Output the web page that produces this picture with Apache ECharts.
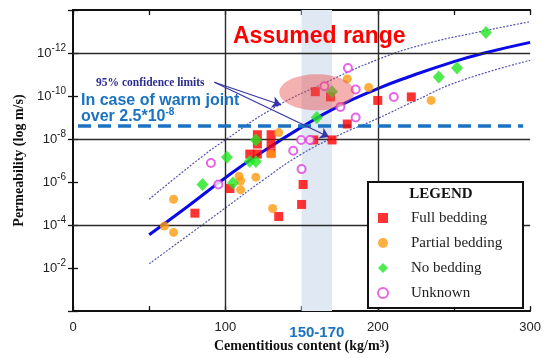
<!DOCTYPE html>
<html><head><meta charset="utf-8">
<script src="https://cdn.jsdelivr.net/npm/echarts@6/dist/echarts.min.js"></script>
<style>html,body{margin:0;padding:0;background:#fff}#c{width:544px;height:358px}</style>
</head><body><div id="c"></div>
<script>
// ---- data (x: cementitious content kg/m3, k: permeability m/s) ----
const xLabelValues = [0, 100, 200, 300];
const yLabelExponents = [-12, -10, -8, -6, -4, -2];

const fullX = [80, 103, 116, 121, 121, 121, 130, 130, 130, 135, 150, 151, 158, 159, 169, 170, 180, 200, 222];
const fullK = [2.8e-5, 2.0e-6, 5.0e-8, 6.3e-9, 1.7e-8, 5.0e-8, 6.3e-9, 1.7e-8, 4.5e-8, 4.0e-5, 1.1e-5, 1.3e-6, 1.1e-8, 6.3e-11, 1.1e-10, 1.1e-8, 2.0e-9, 1.6e-10, 1.1e-10];

const partialX = [60, 66, 66, 109, 110, 110, 120, 130, 131, 135, 180, 194, 235];
const partialK = [1.1e-4, 2.2e-4, 6.3e-6, 5.4e-7, 8.9e-7, 2.3e-6, 5.9e-7, 5.0e-8, 1.7e-5, 5.0e-9, 1.6e-11, 4.0e-11, 1.6e-10];

const noX = [85, 101, 105, 116, 120, 120, 160, 170, 240, 252, 271];
const noK = [1.3e-6, 7.1e-8, 1.1e-6, 1.1e-7, 1.1e-7, 1.1e-8, 1.0e-9, 6.3e-11, 1.3e-11, 5.0e-12, 1.1e-13];

const unkX = [90.5, 95.4, 144.5, 150, 149.7, 155.5, 165, 175.5, 180.4, 185.5, 185.5, 210.5];
const unkK = [1.3e-7, 1.3e-6, 3.5e-8, 2.5e-7, 1.1e-8, 1.1e-8, 3.5e-11, 3.2e-10, 5.0e-12, 5.0e-11, 1.0e-9, 1.1e-10];

const fitX = [50, 75, 100, 120, 150, 175, 200, 220, 250, 270, 300];
const fitK = [2.8e-4, 1.4e-5, 6.3e-7, 6.3e-8, 2.8e-9, 2.8e-10, 4.5e-11, 1.3e-11, 2.5e-12, 1.0e-12, 3.2e-13];

const upperX = [50, 85, 100, 132, 165, 200, 230, 265, 300];
const upperK = [6.3e-6, 6.3e-8, 1.1e-8, 3.5e-10, 2.5e-11, 2.0e-12, 4.0e-13, 1.1e-13, 3.5e-14];

const lowerX = [50, 100, 125, 150, 175, 200, 225, 254, 300];
const lowerK = [6.3e-3, 1.6e-5, 7.9e-7, 5.0e-8, 6.3e-9, 1.1e-9, 1.6e-10, 2.0e-11, 2.2e-12];

const bandRange = [150, 170];
const gridK = [1e-12, 1e-8, 1e-4];
const gridX = [100, 200];
const axisXRange = [0, 300];
const axisKRange = [1e-14, 1];
const warmJointK = 2.3e-9;
const warmJointX = [3.3, 295.4];
const arrowStart = [92.8, 2.3e-11];
const arrowEnds = [[136.6, 2.6e-10], [168, 8.1e-9]];
const ellipseCenter = [160, 6.6e-11];

const zip = (xs, ys) => xs.map((x, i) => [x, ys[i]]);

const BLUE = '#1b72c2';
const sans = 'Liberation Sans';
const serif = 'Liberation Serif';

const chart = echarts.init(document.getElementById('c'), null, {renderer: 'canvas'});

const yLabelFmt = v => {
  const e = Math.round(Math.log10(v));
  return yLabelExponents.includes(e) ? '{b|10}{s|' + e + '}' : '';
};
const axisLineStyle = {lineStyle: {color: '#111', width: 2}};
const tickStyle = {inside: true, length: 5, lineStyle: {color: '#111', width: 1.3}};

const gridLines = gridK.map(k => [{coord: [axisXRange[0], k]}, {coord: [axisXRange[1], k]}])
  .concat(gridX.map(x => [{coord: [x, axisKRange[0]]}, {coord: [x, axisKRange[1]]}]));

const option = {
  animation: false,
  backgroundColor: '#fff',
  grid: {left: 73, right: 12, top: 10, bottom: 40, containLabel: false},
  xAxis: [{
    type: 'value', min: axisXRange[0], max: axisXRange[1], interval: 50, position: 'bottom',
    axisLine: axisLineStyle, axisTick: tickStyle, splitLine: {show: false},
    axisLabel: {margin: 10, fontFamily: sans, fontSize: 13, color: '#222',
      formatter: v => xLabelValues.includes(v) ? String(v) : ''},
    name: 'Cementitious content (kg/m{s|3})', nameLocation: 'middle', nameGap: 26,
    nameTextStyle: {fontFamily: serif, fontWeight: 'bold', fontSize: 14, color: '#111',
      rich: {s: {fontFamily: serif, fontWeight: 'bold', fontSize: 10, color: '#111', verticalAlign: 'top', lineHeight: 10}}}
  }, {
    type: 'value', min: axisXRange[0], max: axisXRange[1], interval: 50, position: 'top',
    axisLine: axisLineStyle, axisTick: tickStyle, splitLine: {show: false},
    axisLabel: {show: false}
  }],
  yAxis: [{
    type: 'log', logBase: 10, min: axisKRange[0], max: axisKRange[1], interval: 2, inverse: true, position: 'left',
    axisLine: axisLineStyle, axisTick: tickStyle, splitLine: {show: false},
    axisLabel: {margin: 7, formatter: yLabelFmt,
      rich: {
        b: {fontFamily: sans, fontSize: 13, color: '#222', lineHeight: 20, verticalAlign: 'middle'},
        s: {fontFamily: sans, fontSize: 10, color: '#222', lineHeight: 10, verticalAlign: 'top'}
      }},
    name: 'Permeability (log m/s)', nameLocation: 'middle', nameGap: 39,
    nameTextStyle: {fontFamily: serif, fontWeight: 'bold', fontSize: 14, color: '#111'}
  }, {
    type: 'log', logBase: 10, min: axisKRange[0], max: axisKRange[1], interval: 2, inverse: true, position: 'right',
    axisLine: axisLineStyle, axisTick: tickStyle, splitLine: {show: false},
    axisLabel: {show: false}
  }],
  legend: {
    orient: 'vertical', left: 372, top: 205, itemWidth: 10, itemHeight: 10, itemGap: 9,
    selectedMode: false, z: 20,
    textStyle: {fontFamily: serif, fontSize: 15, color: '#222', lineHeight: 16, padding: [0, 0, 0, 18]},
    data: [
      {name: 'Full bedding', icon: 'rect'},
      {name: 'Partial bedding', icon: 'circle'},
      {name: 'No bedding', icon: 'diamond'},
      {name: 'Unknown', icon: 'emptyCircle'}
    ]
  },
  graphic: [
    {type: 'rect', id: 'legbox', z: 15, shape: {x: 368, y: 182, width: 155, height: 126},
      style: {fill: '#fff', stroke: '#111', lineWidth: 2}},
    {type: 'text', id: 'legtitle', z: 16, x: 441, y: 194,
      style: {text: 'LEGEND', fill: '#111', font: 'bold 15px "Liberation Serif"', align: 'center', verticalAlign: 'middle'}},
    {type: 'text', id: 'assumed', z: 16, x: 233, y: 37,
      style: {text: 'Assumed range', fill: '#ff0000', font: 'bold 23px "Liberation Sans"', align: 'left', verticalAlign: 'middle'}},
    {type: 'text', id: 'conf', z: 16, x: 96, y: 83,
      style: {text: '95% confidence limits', fill: '#2d2d8f', font: 'bold 11.5px "Liberation Serif"', align: 'left', verticalAlign: 'middle'}},
    {type: 'text', id: 'warm1', z: 16, x: 81, y: 101,
      style: {text: 'In case of warm joint', fill: BLUE, font: 'bold 16px "Liberation Sans"', align: 'left', verticalAlign: 'middle'}},
    {type: 'text', id: 'warm2', z: 16, x: 81, y: 117,
      style: {text: '{a|over 2.5*10}{s|-8}', align: 'left', verticalAlign: 'middle',
        rich: {
          a: {fill: BLUE, fontFamily: sans, fontWeight: 'bold', fontSize: 16, lineHeight: 20, verticalAlign: 'middle'},
          s: {fill: BLUE, fontFamily: sans, fontWeight: 'bold', fontSize: 10, lineHeight: 10, verticalAlign: 'top'}
        }}}
  ],
  series: [
    {name: 'band', type: 'line', data: [], z: 0, silent: true,
      markArea: {silent: true, itemStyle: {color: '#dfe8f3'},
        label: {show: true, position: 'bottom', distance: 14, color: BLUE, fontFamily: sans, fontWeight: 'bold', fontSize: 15,
          formatter: bandRange[0] + '-' + bandRange[1]},
        data: [[{xAxis: bandRange[0]}, {xAxis: bandRange[1]}]]}},
    {name: 'grid', type: 'line', data: [], z: 1, silent: true,
      markLine: {silent: true, symbol: 'none', label: {show: false},
        lineStyle: {color: '#2a2a2a', width: 1.4, type: 'solid', opacity: 1},
        emphasis: {disabled: true},
        data: gridLines}},
    {name: 'warm', type: 'line', data: [], z: 2, silent: true,
      markLine: {silent: true, symbol: 'none', label: {show: false},
        lineStyle: {color: BLUE, width: 3.5, type: [13, 7], opacity: 1},
        data: [[{coord: [warmJointX[0], warmJointK]}, {coord: [warmJointX[1], warmJointK]}]]}},
    {name: 'upper', type: 'line', data: zip(upperX, upperK), smooth: true, showSymbol: false, z: 3, silent: true,
      lineStyle: {color: '#5555b5', width: 1.2, type: [2, 1.5]}},
    {name: 'lower', type: 'line', data: zip(lowerX, lowerK), smooth: true, showSymbol: false, z: 3, silent: true,
      lineStyle: {color: '#5555b5', width: 1.2, type: [2, 1.5]}},
    {name: 'fit', type: 'line', data: zip(fitX, fitK), smooth: true, showSymbol: false, z: 3, silent: true,
      lineStyle: {color: '#0a0ae6', width: 3}},
    {name: 'arrows', type: 'line', data: [], z: 4, silent: true,
      markLine: {silent: true, symbol: ['none', 'arrow'], symbolSize: 9, label: {show: false},
        lineStyle: {color: '#3535a5', width: 1.2, type: 'solid', opacity: 1},
        data: arrowEnds.map(e => [{coord: arrowStart}, {coord: e}])}},
    {name: 'Full bedding', type: 'scatter', data: zip(fullX, fullK), symbol: 'rect', symbolSize: 9, z: 5,
      itemStyle: {color: '#ff0000'}},
    {name: 'Partial bedding', type: 'scatter', data: zip(partialX, partialK), symbol: 'circle', symbolSize: 9, z: 5,
      itemStyle: {color: '#ff9a10'}},
    {name: 'No bedding', type: 'scatter', data: zip(noX, noK), symbol: 'diamond', symbolSize: [12, 13], z: 5,
      itemStyle: {color: '#22e622'}},
    {name: 'Unknown', type: 'scatter', data: zip(unkX, unkK), symbol: 'emptyCircle', symbolSize: 8, z: 5,
      itemStyle: {color: '#e040e0', borderWidth: 1.3}}
  ]
};
chart.setOption(option);

const c = chart.convertToPixel({gridIndex: 0}, ellipseCenter);
chart.setOption({graphic: [
  {type: 'ellipse', id: 'ell', z: 12, shape: {cx: c[0], cy: c[1], rx: 37.5, ry: 18},
    style: {fill: 'rgba(232,80,80,0.45)'}}
]});
</script></body></html>
